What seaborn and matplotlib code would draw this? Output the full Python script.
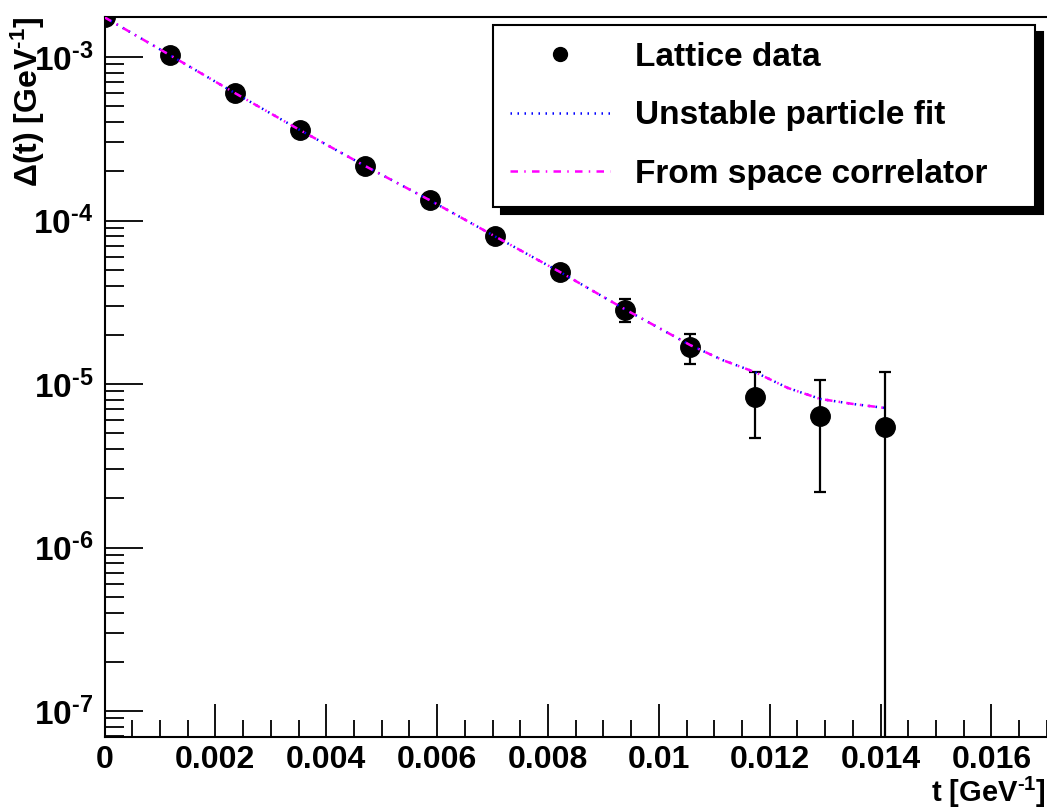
import matplotlib
matplotlib.use("Agg")
import matplotlib.pyplot as plt
import matplotlib.ticker as mticker
from matplotlib.lines import Line2D
import seaborn as sns
import pandas as pd
import numpy as np

# ---- data ----
t_data = [0.0, 0.001174, 0.002348, 0.003522, 0.004696, 0.005870, 0.007044,
          0.008218, 0.009392, 0.010566, 0.011740, 0.012914, 0.014088]
delta_data = [1.75e-3, 1.03e-3, 6.03e-4, 3.58e-4, 2.16e-4, 1.33e-4, 8.0e-5,
              4.84e-5, 2.84e-5, 1.68e-5, 8.3e-6, 6.37e-6, 5.46e-6]
delta_err = [2e-5, 1e-5, 5e-6, 3e-6, 2e-6, 1.5e-6, 1.2e-6,
             1.5e-6, 4.5e-6, 3.5e-6, 3.6e-6, 4.2e-6, 6.35e-6]

t_fit = [0.0, 0.001174, 0.002348, 0.003522, 0.004696, 0.005870, 0.007044,
         0.008218, 0.009392, 0.010566, 0.011153, 0.011740, 0.012327,
         0.012914, 0.013501, 0.014088]
delta_unstable = [1.75e-3, 1.03e-3, 6.03e-4, 3.58e-4, 2.16e-4, 1.33e-4, 8.0e-5,
                  4.84e-5, 2.86e-5, 1.73e-5, 1.40e-5, 1.18e-5, 9.46e-6,
                  8.1e-6, 7.55e-6, 7.13e-6]
delta_space = [1.75e-3, 1.03e-3, 6.03e-4, 3.58e-4, 2.16e-4, 1.33e-4, 8.0e-5,
               4.84e-5, 2.86e-5, 1.73e-5, 1.40e-5, 1.18e-5, 9.46e-6,
               8.1e-6, 7.55e-6, 7.13e-6]

labels = ["Lattice data", "Unstable particle fit", "From space correlator"]

sns.set_theme(style="ticks")
plt.rcParams['font.family'] = ['Liberation Sans', 'DejaVu Sans']
plt.rcParams['font.weight'] = 'bold'
plt.rcParams['mathtext.fontset'] = 'custom'
plt.rcParams['mathtext.rm'] = 'Liberation Sans:bold'
plt.rcParams['mathtext.bf'] = 'Liberation Sans:bold'
plt.rcParams['mathtext.it'] = 'Liberation Sans:bold'
plt.rcParams['mathtext.default'] = 'rm'
for k in ['text.color', 'axes.labelcolor', 'xtick.color', 'ytick.color', 'axes.edgecolor']:
    plt.rcParams[k] = 'black'

W, H = 1047, 811
fig = plt.figure(figsize=(W / 100, H / 100), dpi=100)
fig.patch.set_facecolor('white')

x0, x1 = 104.5, 1052.0
ytop, ybot = 17.0, 737.0
ax = fig.add_axes([x0 / W, 1 - ybot / H, (x1 - x0) / W, (ybot - ytop) / H])
ax.set_facecolor('white')

df_u = pd.DataFrame({"t": t_fit, "d": delta_unstable})
df_s = pd.DataFrame({"t": t_fit, "d": delta_space})

blue_ls = (0, (0.6, 2.2))
mag_ls = (0, (3.0, 2.5, 0.6, 2.5))
sns.lineplot(data=df_u, x="t", y="d", ax=ax, color=(0, 0, 1), lw=1.8,
             linestyle=blue_ls, estimator=None, sort=False, zorder=3)
sns.lineplot(data=df_s, x="t", y="d", ax=ax, color=(1, 0, 1), lw=1.8,
             linestyle=mag_ls, estimator=None, sort=False, zorder=3.5)

ax.errorbar(t_data, delta_data, yerr=delta_err, fmt='o', color='black',
            ms=14, ecolor='black', elinewidth=1.6, capsize=4, capthick=1.6,
            zorder=2)

ax.set_yscale('log', nonpositive='clip')
ax.set_xlim(0, (x1 - x0) / 55430.0)
dec = 163.5
ax.set_ylim(10 ** (-7 - (ybot - 711) / dec), 10 ** (-3 + (57 - ytop) / dec))

ax.xaxis.set_major_locator(mticker.MultipleLocator(0.002))
ax.xaxis.set_minor_locator(mticker.MultipleLocator(0.0005))
ax.xaxis.set_major_formatter(mticker.FuncFormatter(lambda v, p: f"{v:g}"))
ax.yaxis.set_major_locator(mticker.LogLocator(base=10, numticks=20))
ax.yaxis.set_minor_locator(mticker.LogLocator(base=10, subs=np.arange(2, 10), numticks=20))
ax.yaxis.set_minor_formatter(mticker.NullFormatter())
ax.yaxis.set_major_formatter(mticker.FuncFormatter(
    lambda v, p: r"$10^{\text{%d}}$" % int(round(np.log10(v)))))

ax.tick_params(axis='x', which='major', direction='in', length=24, width=1.3,
               labelsize=23, pad=6, top=False)
ax.tick_params(axis='x', which='minor', direction='in', length=12, width=1.3, top=False)
ax.tick_params(axis='y', which='major', direction='in', length=27, width=1.3,
               labelsize=24, pad=8, right=False)
ax.tick_params(axis='y', which='minor', direction='in', length=14, width=1.3, right=False)

for s in ['left', 'bottom', 'top', 'right']:
    ax.spines[s].set_visible(True)
    ax.spines[s].set_linewidth(1.5)
    ax.spines[s].set_color('black')

ax.set_xlabel("")
ax.set_ylabel("")
fig.text(1046 / W, 1 - 802 / H, r"t [GeV$^{\text{-1}}$]", ha='right', va='baseline',
         fontsize=21, fontweight='bold')
fig.text(28 / W, 1 - 17 / H, r"$\Delta$(t) [GeV$^{\text{-1}}$]", ha='center', va='top',
         rotation=90, fontsize=23, fontweight='bold')

handles = [
    Line2D([], [], marker='o', ls='none', color='black', ms=10),
    Line2D([], [], color=(0, 0, 1), lw=1.8, ls=blue_ls),
    Line2D([], [], color=(1, 0, 1), lw=1.8, ls=mag_ls),
]
leg_top, leg_bot = 25, 205
leg = ax.legend(handles, labels,
                loc='upper left',
                bbox_to_anchor=(493 / W, 1 - leg_bot / H, (1035 - 493) / W, (leg_bot - leg_top) / H),
                bbox_transform=fig.transFigure, mode='expand', borderaxespad=0,
                fancybox=False, frameon=True, edgecolor='black', framealpha=1,
                prop={'size': 24, 'weight': 'bold'}, handlelength=3.0,
                handletextpad=0.75, labelspacing=0.83, borderpad=0.5,
                shadow={'ox': 6, 'oy': -5, 'color': 'black', 'alpha': 1})
leg.get_frame().set_linewidth(1.5)

fig.savefig("out.png", dpi=100, facecolor='white')
